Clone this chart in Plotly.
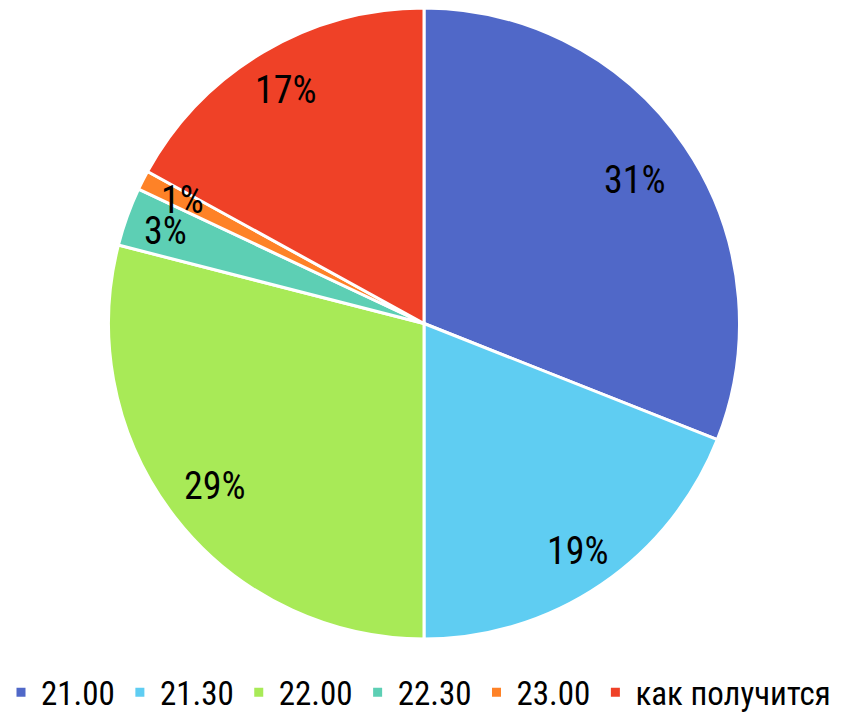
import math
import plotly.graph_objects as go

categories = ["21.00", "21.30", "22.00", "22.30", "23.00", "как получится"]
values = [31, 19, 29, 3, 1, 17]
colors = ["#5068C8", "#5FCDF2", "#A8EA57", "#5DCFB4", "#FE8227", "#EF4127"]

FONT = "Liberation Sans Narrow, Roboto Condensed, Lato, sans-serif"

# page body has an 8px margin; figure sized to fit the window
W, H = 852, 706
plot_h = 631
mt = 0
mb = H - mt - plot_h
cx_px = 416
dom_x = [0, 2 * cx_px / W]
label_radius = [0.81, 0.87, 0.84, 0.87, 0.86, 0.86]

fig = go.Figure(go.Pie(
    labels=categories,
    values=values,
    marker=dict(colors=colors, line=dict(color="white", width=3)),
    sort=False,
    direction="clockwise",
    rotation=0,
    textinfo="none",
    hoverinfo="label+percent",
    domain=dict(x=dom_x, y=[0, 1]),
))

total = sum(values)
R = plot_h / 2
cum = 0
annotations = []
for v, rf in zip(values, label_radius):
    mid = (cum + v / 2) / total * 2 * math.pi
    cum += v
    r = rf * R
    px = cx_px + r * math.sin(mid)
    py = mt + R - r * math.cos(mid)
    annotations.append(dict(
        x=px / W, y=(H - mb - py) / plot_h, xref="paper", yref="paper",
        text=f"{round(v / total * 100)}%", showarrow=False,
        font=dict(family=FONT, size=38, color="black"),
        xanchor="center", yanchor="middle",
    ))

fig.update_layout(
    width=W, height=H,
    margin=dict(l=0, r=0, t=mt, b=mb, autoexpand=False),
    paper_bgcolor="white",
    annotations=annotations,
    showlegend=True,
    legend=dict(
        orientation="h", x=-7 / W, xanchor="left", y=-0.04, yanchor="top",
        font=dict(family=FONT, size=33, color="black"),
        itemwidth=30, tracegroupgap=0,
    ),
)

fig.write_html("out.html")
